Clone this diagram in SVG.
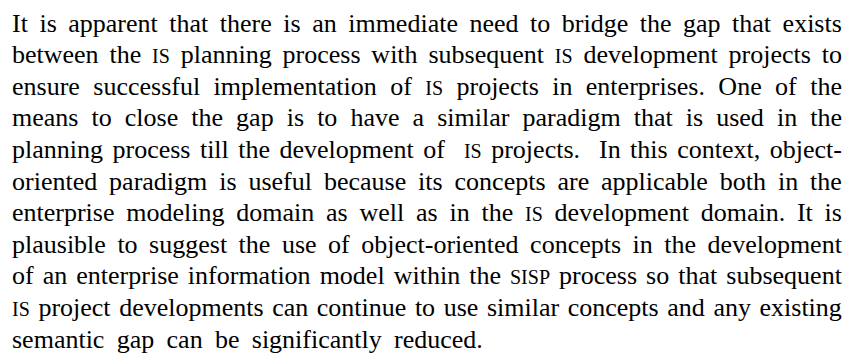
<svg xmlns="http://www.w3.org/2000/svg" width="848" height="356" viewBox="0 0 848 356">
<style>
.sc{font-size:20px}
.pre{white-space:pre}
</style>
<rect width="848" height="356" fill="#fff"/>
<g id="paragraph" font-family="Liberation Serif, Times New Roman, serif" font-size="26" fill="#000">
<text x="12" y="31.5" word-spacing="5.02">It is apparent that there is an immediate need to bridge the gap that exists</text>
<text x="12" y="63.1" word-spacing="4.34">between the <tspan class="sc">IS</tspan> planning process with subsequent <tspan class="sc">IS</tspan> development projects to</text>
<text x="12" y="94.7" word-spacing="6.92">ensure successful implementation of <tspan class="sc">IS</tspan> projects in enterprises. One of the</text>
<text x="12" y="126.3" word-spacing="6.57">means to close the gap is to have a similar paradigm that is used in the</text>
<text x="12" y="157.9" word-spacing="2.98" class="pre" xml:space="preserve">planning process till the development of  <tspan class="sc">IS</tspan> projects.  In this context, object-</text>
<text x="12" y="189.5" word-spacing="5.41">oriented paradigm is useful because its concepts are applicable both in the</text>
<text x="12" y="221.1" word-spacing="5.28">enterprise modeling domain as well as in the <tspan class="sc">IS</tspan> development domain. It is</text>
<text x="12" y="252.7" word-spacing="5.01">plausible to suggest the use of object-oriented concepts in the development</text>
<text x="12" y="284.3" word-spacing="2.55">of an enterprise information model within the <tspan class="sc">SISP</tspan> process so that subsequent</text>
<text x="12" y="315.9" word-spacing="2.08"><tspan class="sc">IS</tspan> project developments can continue to use similar concepts and any existing</text>
<text x="12" y="347.5" word-spacing="5.8">semantic gap can be significantly reduced.</text>
</g>
</svg>
